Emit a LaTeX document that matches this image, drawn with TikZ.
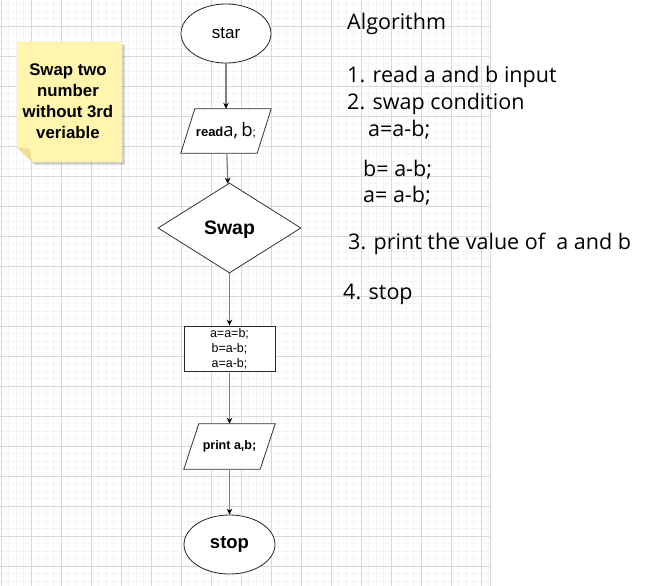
\documentclass[tikz,border=0pt]{standalone}
\usepackage{fontspec}
\setmainfont{Liberation Sans}
\newfontfamily\algfont{Open Sans}
\usetikzlibrary{shapes.geometric,arrows.meta}
\definecolor{notefill}{HTML}{FFF5AD}
\definecolor{notefold}{HTML}{EDE08F}
\definecolor{minorg}{HTML}{F4F4F4}
\definecolor{majorg}{HTML}{D9D9D9}
\definecolor{conn}{HTML}{808080}
\tikzset{
  minorgrid/.style={draw=minorg,line width=0.8pt},
  majorgrid/.style={draw=majorg,line width=0.8pt},
  term/.style={ellipse,draw=black!85,line width=0.8pt,fill=white,minimum width=90pt,minimum height=59pt,inner sep=0pt},
  iobox/.style={draw=none,minimum width=90pt,minimum height=44pt,inner sep=0pt},
  iofill/.style={draw=black!80,line width=0.8pt,fill=white},
  procbox/.style={rectangle,draw=black!85,line width=0.8pt,fill=white,minimum width=91pt,minimum height=45pt,inner sep=0pt,align=center,font=\fontsize{12.5}{15}\selectfont},
  decbox/.style={diamond,draw=black!80,line width=0.8pt,fill=white,minimum width=143pt,minimum height=90pt,inner sep=0pt,aspect=1.59,text depth=0pt},
  conn/.style={draw=conn,line width=1.2pt,-{Stealth[length=6pt,width=5.5pt,color=black]}},
  algtxt/.style={anchor=base west,inner sep=0pt,font=\algfont\fontsize{21.5}{24}\selectfont},
  notetxt/.style={align=center,font=\bfseries\fontsize{16.8}{21}\selectfont}
}
\begin{document}
\begin{tikzpicture}[x=1pt,y=-1pt]
\useasboundingbox (0,0) rectangle (648,586);
\fill[white] (0,0) rectangle (648,586);
% grid
\begin{scope}
\clip (0,0) rectangle (491,586);
\foreach \i in {0,...,65} \draw[minorgrid] ({1+7.5*\i},0) -- ({1+7.5*\i},586);
\foreach \i in {0,...,78} \draw[minorgrid] (0,{3.5+7.5*\i}) -- (491,{3.5+7.5*\i});
\foreach \i in {0,...,16} \draw[majorgrid] ({1+30*\i},0) -- ({1+30*\i},586);
\foreach \i in {0,...,18} \draw[majorgrid] (0,{26+30*\i}) -- (491,{26+30*\i});
\draw[majorgrid] (490.5,0) -- (490.5,586);
\end{scope}

% sticky note
\fill[black,opacity=0.12] (20,45) -- (125,45) -- (125,165) -- (35,165) -- (20,150) -- cycle;
\fill[black,opacity=0.08] (19,44) -- (124,44) -- (124,164) -- (34,164) -- (19,149) -- cycle;
\fill[notefill] (17,42) -- (122,42) -- (122,162) -- (32,162) -- (17,147) -- cycle;
\fill[notefold] (17,147) -- (30,149) -- (32,162) -- cycle;
\node[notetxt] (note) at (68,101) {Swap two\\number\\without 3rd\\veriable};

% flowchart
\node[term] (st) at (226,33.5) {\fontsize{17}{17}\selectfont star};
\node[iobox] (rd) at (226,131) {};
\path[iofill] ([xshift=14pt]rd.north west) -- (rd.north east) -- ([xshift=-14pt]rd.south east) -- (rd.south west) -- cycle;
\node (rdl) at (rd.center) {{\bfseries\fontsize{13}{12}\selectfont read}{\algfont\fontsize{18.5}{18}\selectfont a,\,b}{\fontsize{12}{12}\selectfont ;}};
\node[decbox] (sw) at (229.5,228) {\bfseries\fontsize{19.5}{19}\selectfont Swap};
\node[procbox] (pr) at (229.5,348.5) {a=a=b;\\b=a-b;\\a=a-b;};
\node[iobox,minimum width=91pt,minimum height=45pt] (pt) at (229.5,446.5) {};
\path[iofill] ([xshift=15pt]pt.north west) -- (pt.north east) -- ([xshift=-15pt]pt.south east) -- (pt.south west) -- cycle;
\node (ptl) at (pt.center) {\bfseries\fontsize{12.5}{12}\selectfont print a,b;};
\node[term,minimum width=91pt] (sp) at (229.5,544.5) {\bfseries\fontsize{18.5}{18.5}\selectfont stop};

\draw[conn] (st) -- (rd);
\draw[conn] (rd) -- (sw);
\draw[conn] (sw) -- (pr);
\draw[conn] (pr) -- (pt);
\draw[conn] (pt) -- (sp);

% algorithm text
\node[algtxt] (a0) at (347,29.3) {Algorithm};
\node[algtxt] (a1) at (347,82.7) {1. read a and b input};
\node[algtxt] (a2) at (347,110) {2. swap condition};
\node[algtxt] (a3) at (368,136) {a=a-b;};
\node[algtxt] (a4) at (363,176.7) {b= a-b;};
\node[algtxt] (a5) at (363,202.7) {a= a-b;};
\node[algtxt] (a6) at (348,249.3) {3. print the value of\ \ a and b};
\node[algtxt] (a7) at (343,299.3) {4. stop};
\end{tikzpicture}
\end{document}
